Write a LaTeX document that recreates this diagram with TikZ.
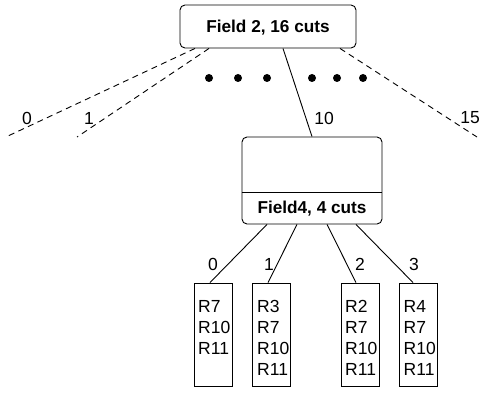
\documentclass[tikz,border=0pt]{standalone}
\usepackage{fontspec}
\setmainfont{Liberation Sans}
\begin{document}
\begin{tikzpicture}[x=1pt,y=-1pt,
  every node/.style={font=\fontsize{17.5}{21}\selectfont, inner sep=0pt},
  rbox/.style={draw, line width=0.9pt, rounded corners=5pt},
  leafbox/.style={draw, line width=0.9pt, minimum width=38pt, minimum height=103pt},
  conn/.style={line width=0.9pt},
  dconn/.style={line width=0.9pt, dash pattern=on 6pt off 4.5pt},
  dotn/.style={circle, fill=black, minimum size=8pt},
  lbl/.style={anchor=center},
  bold/.style={font=\bfseries\fontsize{17.2}{21}\selectfont},
  leaftxt/.style={anchor=north west, align=left}
]
\useasboundingbox (0,0) rectangle (482,393);
% top box
\node[rbox, minimum width=176pt, minimum height=43pt] (top) at (268,26.5) {};
\node[bold] (toptxt) at (268,28) {Field 2, 16 cuts};
% dashed branches
\coordinate (e0) at (8,136);
\coordinate (e1) at (77,137);
\coordinate (e15) at (477,137);
\draw[dconn] ([xshift=-73pt]top.south) -- (e0);
\draw[dconn] ([xshift=-59pt]top.south) -- (e1);
\draw[dconn] ([xshift=72pt]top.south) -- (e15);
% dots
\foreach \i/\x in {1/209,2/238,3/267,4/312,5/337,6/363}
  \node[dotn] (dot\i) at (\x,78) {};
% labels
\node[lbl] (l0) at (27,118) {0};
\node[lbl] (l1) at (89,118) {1};
\node[lbl] (l10) at (324,118) {10};
\node[lbl] (l15) at (470,118) {15};
% middle box
\node[rbox, minimum width=140pt, minimum height=87pt] (mid) at (312,180.5) {};
\draw[conn] (mid.west |- 0,192) -- (mid.east |- 0,192);
\node[bold] (midtxt) at (312,209) {Field4, 4 cuts};
\draw[conn] ([xshift=15pt]top.south) -- (mid.north);
% leaves
\node[leafbox] (leaf0) at (213,334.5) {};
\node[leafbox] (leaf1) at (271.5,334.5) {};
\node[leafbox] (leaf2) at (360,334.5) {};
\node[leafbox] (leaf3) at (418.5,334.5) {};
\node[leaftxt] (t0) at (198,300) {R7\\R10\\R11};
\node[leaftxt] (t1) at (257,300) {R3\\R7\\R10\\R11};
\node[leaftxt] (t2) at (345,300) {R2\\R7\\R10\\R11};
\node[leaftxt] (t3) at (403.5,300) {R4\\R7\\R10\\R11};
\draw[conn] ([xshift=-45pt]mid.south) -- ([xshift=-3pt]leaf0.north);
\draw[conn] ([xshift=-15pt]mid.south) -- ([xshift=-3.5pt]leaf1.north);
\draw[conn] ([xshift=15pt]mid.south) -- ([xshift=-4pt]leaf2.north);
\draw[conn] ([xshift=44pt]mid.south) -- ([xshift=-5.5pt]leaf3.north);
\node[lbl] (c0) at (213,264) {0};
\node[lbl] (c1) at (269,264) {1};
\node[lbl] (c2) at (360,264) {2};
\node[lbl] (c3) at (414,264) {3};
\end{tikzpicture}
\end{document}
